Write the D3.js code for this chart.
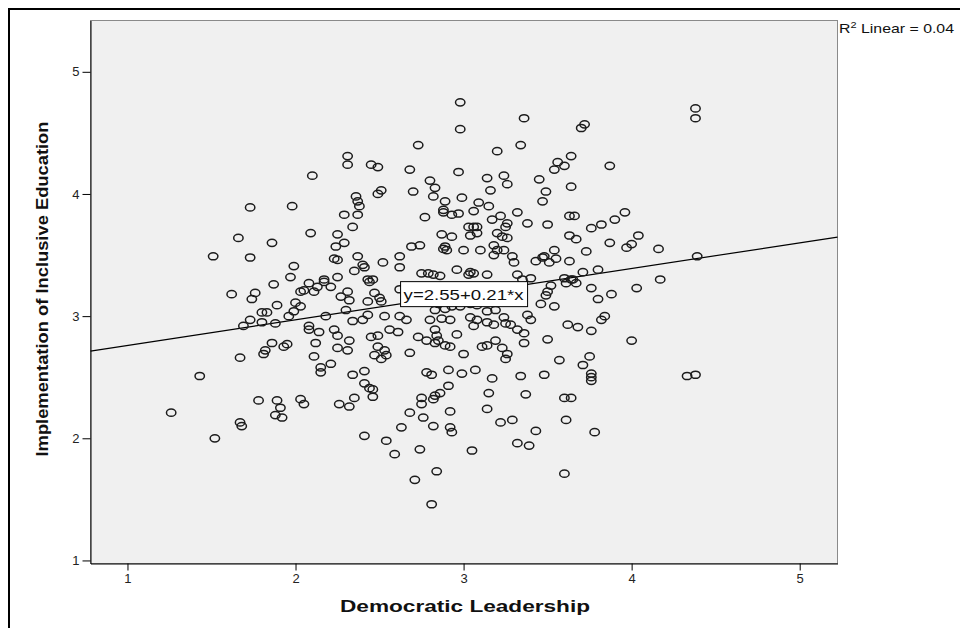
<!DOCTYPE html>
<html>
<head>
<meta charset="utf-8">
<script src="https://cdn.jsdelivr.net/npm/d3@7/dist/d3.min.js"></script>
<style>
  body { margin: 0; background: #fff; }
  text { font-family: "Liberation Sans", Arial, sans-serif; }
</style>
</head>
<body>
<div id="chart"></div>
<script>
// ---------------- data ----------------
var xTicks = [1, 2, 3, 4, 5];
var yTicks = [1, 2, 3, 4, 5];
var xTitle = "Democratic Leadership";
var yTitle = "Implementation of Inclusive Education";
var intercept = 2.55, slope = 0.21, rSquare = "0.04";

// Democratic Leadership (x) and Implementation of Inclusive Education (y), pairwise
var leadership = [
  2.10,1.73,1.98,
  2.98,3.36,2.98,2.73,3.34,3.20,2.31,2.31,2.45,2.49,2.68,2.97,3.14,3.24,2.80,3.26,2.83,3.16,2.70,2.51,2.49,2.82,2.36,2.37,2.38,2.89,2.99,3.09,3.15,2.37,2.29,2.77,2.88,2.88,2.93,2.97,3.06,3.32,3.22,3.17,3.26,2.34,3.03,3.06,3.08,3.25,3.38,
  4.38,4.38,3.72,3.70,3.64,3.56,3.60,3.54,3.87,3.45,3.64,3.49,3.47,3.63,3.66,3.96,3.90,3.82,3.76,3.50,
  1.66,1.86,2.09,1.51,1.73,1.99,1.97,1.87,2.08,2.17,2.17,2.13,2.03,2.05,2.11,1.62,1.76,1.74,1.89,2.00,2.03,1.99,1.96,1.80,1.83,1.73,1.80,1.88,1.69,2.18,2.08,2.08,2.14,1.86,1.93,1.95,2.12,1.81,1.82,1.67,2.11,2.15,2.21,
  2.25,2.29,2.24,2.23,2.25,2.37,2.40,2.41,2.52,2.62,2.69,2.74,2.62,2.35,2.43,2.46,2.44,2.25,2.21,2.31,2.27,2.32,2.47,2.50,2.51,2.43,2.30,2.75,2.79,2.82,2.86,2.88,2.90,2.89,3.00,2.96,3.04,3.06,3.03,3.10,3.18,3.20,3.18,3.24,3.29,3.30,3.20,3.23,3.26,3.04,3.08,2.93,2.87,3.32,3.35,3.14,2.62,2.81,2.85,2.89,2.83,2.93,2.98,3.04,3.08,3.14,3.19,3.16,3.24,3.25,3.28,3.38,2.34,2.40,2.43,2.53,2.62,2.66,2.80,2.87,2.92,3.04,3.08,3.06,3.14,3.18,3.32,3.36,2.23,2.25,2.32,2.45,2.49,2.56,2.61,2.83,2.84,2.85,2.83,2.96,2.73,2.78,2.89,2.92,2.49,2.53,2.47,2.51,2.54,2.68,2.25,2.31,3.11,3.14,3.19,3.23,3.26,3.25,3.36,3.00,
  3.63,3.67,3.87,3.97,4.00,4.04,4.16,4.39,3.73,3.54,3.47,3.43,3.51,3.55,3.48,3.63,3.71,3.80,3.40,3.60,3.64,3.61,3.67,3.65,3.52,3.50,3.49,3.46,3.54,3.76,3.80,3.88,4.03,4.17,3.84,3.82,3.40,3.62,3.68,3.76,3.50,4.00,3.57,3.75,3.71,
  1.43,1.26,1.52,1.67,1.68,1.78,1.89,1.91,1.88,1.92,2.03,2.05,2.15,
  2.34,2.41,2.41,2.44,2.46,2.46,2.35,2.26,2.32,2.41,2.54,2.59,2.63,2.68,2.76,2.75,2.75,2.82,2.83,2.86,2.91,2.78,2.81,2.91,2.99,3.07,2.92,2.82,2.92,2.93,2.74,3.05,2.84,2.71,2.81,3.17,3.15,3.14,3.22,3.29,3.34,3.37,3.32,3.39,3.43,
  3.48,3.76,3.76,3.76,4.33,4.38,3.60,3.64,3.61,3.78,3.60
];
var inclusive = [
  4.15,3.89,3.90,
  4.75,4.62,4.53,4.40,4.40,4.35,4.31,4.24,4.24,4.22,4.20,4.18,4.13,4.15,4.11,4.08,4.05,4.03,4.02,4.03,4.00,3.98,3.98,3.94,3.90,3.94,3.97,3.93,3.90,3.83,3.83,3.81,3.87,3.85,3.83,3.84,3.86,3.85,3.82,3.79,3.76,3.73,3.73,3.73,3.73,3.73,3.76,
  4.70,4.62,4.57,4.54,4.31,4.26,4.23,4.20,4.23,4.12,4.06,4.02,3.94,3.82,3.82,3.85,3.79,3.75,3.72,3.75,
  3.64,3.60,3.68,3.49,3.48,3.41,3.32,3.26,3.27,3.30,3.28,3.24,3.20,3.21,3.20,3.18,3.19,3.14,3.09,3.11,3.08,3.04,3.00,3.03,3.03,2.97,2.95,2.94,2.92,3.00,2.92,2.89,2.87,2.78,2.75,2.77,2.78,2.69,2.72,2.66,2.67,2.58,2.61,
  3.67,3.60,3.57,3.47,3.46,3.49,3.42,3.40,3.44,3.49,3.57,3.58,3.40,3.37,3.30,3.30,3.28,3.32,3.24,3.20,3.16,3.13,3.19,3.15,3.12,3.12,3.05,3.35,3.35,3.34,3.33,3.55,3.54,3.57,3.54,3.38,3.36,3.35,3.34,3.54,3.58,3.54,3.50,3.54,3.49,3.44,3.68,3.65,3.64,3.66,3.68,3.65,3.67,3.34,3.30,3.34,3.22,3.13,3.10,3.06,3.05,3.08,3.08,3.10,3.09,3.04,3.05,3.13,2.99,2.94,2.93,3.01,2.96,2.97,3.01,3.00,3.00,2.97,2.97,2.98,2.97,2.99,2.97,2.92,2.95,2.93,2.89,2.86,2.89,2.84,2.80,2.83,2.84,2.89,2.87,2.89,2.84,2.80,2.78,2.85,2.83,2.80,2.76,2.75,2.75,2.72,2.68,2.65,2.68,2.70,2.74,2.72,2.75,2.76,2.80,2.74,2.69,2.65,2.78,2.69,
  3.66,3.63,3.60,3.56,3.59,3.66,3.55,3.49,3.53,3.54,3.48,3.45,3.44,3.47,3.49,3.45,3.36,3.38,3.31,3.31,3.30,3.27,3.27,3.30,3.25,3.20,3.17,3.10,3.08,3.23,3.14,3.18,3.23,3.30,3.00,2.97,2.97,2.93,2.91,2.88,2.81,2.80,2.64,2.67,2.60,
  2.51,2.21,2.00,2.13,2.10,2.31,2.31,2.25,2.19,2.17,2.32,2.28,2.54,
  2.52,2.55,2.45,2.41,2.40,2.34,2.33,2.28,2.26,2.02,1.98,1.87,2.09,2.21,2.17,2.33,2.28,2.32,2.35,2.37,2.43,2.54,2.52,2.56,2.53,2.56,2.22,2.10,2.09,2.05,1.91,1.90,1.73,1.66,1.46,2.49,2.37,2.24,2.13,2.15,2.51,2.36,1.96,1.94,2.06,
  2.52,2.53,2.50,2.47,2.51,2.52,2.33,2.33,2.15,2.05,1.71
];

var points = leadership.map(function(d, i){ return {x: d, y: inclusive[i]}; });

// ---------------- layout ----------------
var width = 960, height = 628;

var x = d3.scaleLinear().domain([0.78, 5.225]).range([90.5, 837.5]);
var y = d3.scaleLinear().domain([0.975, 5.42]).range([563.5, 20.5]);

var svg = d3.select("#chart").append("svg")
  .attr("width", width)
  .attr("height", height);

// outer frame (top + left only, as in the output window)
svg.append("path")
  .attr("d", "M9," + height + "V9H" + width)
  .attr("fill", "none")
  .attr("stroke", "#000")
  .attr("stroke-width", 2);

// plot background
svg.append("rect")
  .attr("x", x.range()[0])
  .attr("y", y.range()[1])
  .attr("width", x.range()[1] - x.range()[0])
  .attr("height", y.range()[0] - y.range()[1])
  .attr("fill", "#f0f0f0")
  .attr("stroke", "#8a8a8a")
  .attr("stroke-width", 1);

// axes
var xAxis = d3.axisBottom(x).tickValues(xTicks).tickFormat(d3.format("d"))
  .tickSize(7).tickSizeOuter(0).tickPadding(3);
var yAxis = d3.axisLeft(y).tickValues(yTicks).tickFormat(d3.format("d"))
  .tickSize(8).tickSizeOuter(0).tickPadding(3);

var gx = svg.append("g")
  .attr("transform", "translate(0," + y.range()[0] + ")")
  .call(xAxis);
var gy = svg.append("g")
  .attr("transform", "translate(" + x.range()[0] + ",0)")
  .call(yAxis);

[gx, gy].forEach(function(g){
  g.selectAll("path.domain").attr("stroke", "#000");
  g.selectAll(".tick line").attr("stroke", "#000");
  g.selectAll(".tick text")
    .attr("fill", "#222")
    .style("font-size", "13px")
    .style("font-family", "'Liberation Sans', Arial, sans-serif");
});

// fit line
var x0 = x.domain()[0], x1 = x.domain()[1];
svg.append("line")
  .attr("x1", x(x0)).attr("y1", y(intercept + slope * x0))
  .attr("x2", x(x1)).attr("y2", y(intercept + slope * x1))
  .attr("stroke", "#000")
  .attr("stroke-width", 1.2);

// points
svg.append("g").selectAll("ellipse")
  .data(points)
  .enter().append("ellipse")
  .attr("cx", function(d){ return x(d.x); })
  .attr("cy", function(d){ return y(d.y); })
  .attr("rx", 4.7)
  .attr("ry", 3.6)
  .attr("fill", "none")
  .attr("stroke", "#1c1c1c")
  .attr("stroke-width", 1.5);

// equation label on the line at x = 3
var lx = x(3), ly = y(intercept + slope * 3);
var lab = svg.append("g").attr("transform", "translate(" + lx + "," + ly + ")");
lab.append("rect")
  .attr("x", -63).attr("y", -12.5)
  .attr("width", 127).attr("height", 25)
  .attr("fill", "#fff")
  .attr("stroke", "#000");
lab.append("text")
  .attr("text-anchor", "middle")
  .attr("y", 6)
  .attr("textLength", 120)
  .attr("lengthAdjust", "spacingAndGlyphs")
  .style("font-size", "15px")
  .attr("fill", "#111")
  .text("y=" + intercept.toFixed(2) + "+" + slope.toFixed(2) + "*x");

// R squared note, top right
var r2 = svg.append("text")
  .attr("transform", "translate(839,33) scale(1.22,1)")
  .style("font-size", "13px")
  .attr("fill", "#111");
r2.append("tspan").text("R");
r2.append("tspan").attr("dy", -5).style("font-size", "9px").text("2");
r2.append("tspan").attr("dy", 5).text(" Linear = " + rSquare);

// axis titles
svg.append("text")
  .attr("x", 465).attr("y", 612)
  .attr("text-anchor", "middle")
  .attr("textLength", 250)
  .attr("lengthAdjust", "spacingAndGlyphs")
  .style("font-size", "16px")
  .style("font-weight", "bold")
  .attr("fill", "#111")
  .text(xTitle);

svg.append("text")
  .attr("transform", "translate(48,289) rotate(-90)")
  .attr("text-anchor", "middle")
  .attr("textLength", 335)
  .attr("lengthAdjust", "spacingAndGlyphs")
  .style("font-size", "17px")
  .style("font-weight", "bold")
  .attr("fill", "#111")
  .text(yTitle);
</script>
</body>
</html>
